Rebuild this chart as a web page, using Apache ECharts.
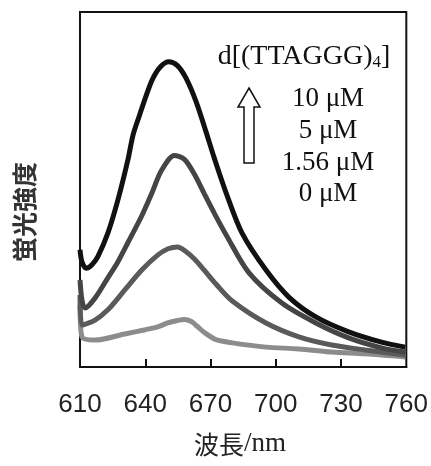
<!DOCTYPE html>
<html>
<head>
<meta charset="utf-8">
<script src="https://cdn.jsdelivr.net/npm/echarts@6/dist/echarts.min.js"></script>
<style>
  html, body { margin: 0; padding: 0; background: #fff; }
  #chart { width: 431px; height: 466px; }
</style>
</head>
<body>
<div id="chart"></div>
<script>
// Wavelength tick labels (nm)
var xTickLabels = [610, 640, 670, 700, 730, 760];
var xTickMarks = [640, 670, 700, 730];

// Series names
var seriesNames = ['10 μM', '5 μM', '1.56 μM', '0 μM'];

// Fluorescence intensity (arbitrary units, 0-100)
var wl10 = [610, 610.9, 612.9, 615.5, 618.2, 622.8, 627.4, 632.0, 634.4, 637.4, 640.5, 643.5, 647.0, 650.8, 654.8, 658.8, 663.4, 667.9, 671.7, 677.2, 684.5, 695.5, 706.0, 718.4, 733.5, 748.6, 759.5];
var int10 = [33.0, 29.6, 27.8, 28.8, 31.1, 37.7, 47.0, 58.3, 65.4, 71.0, 76.6, 81.3, 84.6, 86.0, 84.9, 81.3, 74.7, 66.3, 58.9, 49.0, 37.7, 27.3, 19.7, 14.1, 9.9, 7.0, 5.6];

var wl5 = [610, 610.9, 612.3, 616.9, 622.8, 627.4, 632.0, 638.4, 642.9, 647.5, 653.4, 658.0, 662.6, 667.2, 672.0, 677.2, 687.7, 702.8, 718.4, 733.5, 748.6, 759.5];
var int5 = [24.5, 18.9, 16.6, 19.4, 25.1, 29.6, 35.0, 42.6, 48.8, 55.4, 59.6, 58.5, 54.3, 48.7, 43.0, 37.2, 26.5, 18.0, 12.4, 8.2, 5.4, 4.2];

var wl156 = [610, 610.9, 616.9, 622.8, 630.6, 638.4, 645.7, 650.5, 654.8, 658.5, 662.6, 667.2, 672.6, 680.0, 695.5, 710.6, 725.7, 741.2, 759.5];
var int156 = [20.3, 11.8, 13.2, 16.1, 21.7, 27.3, 31.5, 33.3, 33.8, 32.6, 30.4, 27.2, 23.3, 18.6, 12.4, 8.5, 6.2, 4.8, 3.4];

var wl0 = [610, 610.9, 616.9, 630.6, 640.0, 645.7, 650.3, 654.8, 658.0, 661.2, 664.0, 667.2, 672.6, 680.0, 695.5, 710.6, 725.7, 741.2, 759.5];
var int0 = [17.5, 8.5, 7.6, 9.3, 10.5, 11.3, 12.4, 13.1, 13.4, 12.8, 11.4, 9.7, 7.7, 6.8, 5.6, 5.1, 4.2, 3.7, 2.8];

var lineColors = ['#111111', '#454545', '#5a5a5a', '#8c8c8c'];

function pairs(xs, ys) {
  var out = [];
  for (var i = 0; i < xs.length; i++) out.push([xs[i], ys[i]]);
  return out;
}

var allData = [pairs(wl10, int10), pairs(wl5, int5), pairs(wl156, int156), pairs(wl0, int0)];

var chart = echarts.init(document.getElementById('chart'), null, { renderer: 'canvas' });

var series = [];
for (var s = 3; s >= 0; s--) {
  series.push({
    name: seriesNames[s],
    type: 'line',
    data: allData[s],
    smooth: 0.3,
    symbol: 'none',
    lineStyle: { color: lineColors[s], width: 5 },
    z: 10 - s
  });
}

var serif = '"Liberation Serif", "DejaVu Serif", serif';

var option = {
  animation: false,
  backgroundColor: '#ffffff',
  grid: {
    left: 80, right: 23, top: 12, bottom: 99,
    show: true, borderColor: '#111', borderWidth: 2, backgroundColor: 'transparent'
  },
  xAxis: {
    type: 'value',
    min: 610, max: 760,
    axisLine: { show: true, lineStyle: { color: '#111', width: 2 } },
    axisTick: { show: true, inside: true, length: 8, customValues: xTickMarks, lineStyle: { color: '#111', width: 2 } },
    axisLabel: {
      customValues: xTickLabels,
      margin: 25,
      fontSize: 26,
      color: '#222',
      fontFamily: '"Liberation Sans", Arial, sans-serif'
    },
    splitLine: { show: false }
  },
  yAxis: {
    type: 'value',
    min: 0, max: 100,
    axisLine: { show: false },
    axisTick: { show: false },
    axisLabel: { show: false },
    splitLine: { show: false }
  },
  series: series,
  graphic: [
    {
      type: 'text',
      x: 24, y: 212, rotation: Math.PI / 2,
      style: {
        text: '蛍光強度',
        fontSize: 25,
        fontWeight: 'bold',
        fontFamily: '"Noto Sans CJK JP", sans-serif',
        fill: '#333',
        textAlign: 'center',
        textVerticalAlign: 'middle'
      }
    },
    {
      type: 'text',
      x: 240, y: 444,
      style: {
        text: '{a|波長}{b|/nm}',
        textAlign: 'center',
        textVerticalAlign: 'middle',
        rich: {
          a: { fontSize: 25, fontFamily: '"Noto Sans CJK JP", sans-serif', fill: '#222' },
          b: { fontSize: 27, fontFamily: serif, fill: '#222' }
        }
      }
    },
    {
      type: 'text',
      x: 304, y: 57,
      style: {
        text: '{a|d[(TTAGGG)}{s|4}{a|]}',
        textAlign: 'center',
        textVerticalAlign: 'middle',
        rich: {
          a: { fontSize: 28, fontFamily: serif, fill: '#111' },
          s: { fontSize: 17, fontFamily: serif, fill: '#111', padding: [12, 0, 0, 0] }
        }
      }
    },
    { type: 'text', x: 328, y: 99, style: { text: seriesNames[0], fontSize: 27, fontFamily: serif, fill: '#111', textAlign: 'center', textVerticalAlign: 'middle' } },
    { type: 'text', x: 328, y: 131, style: { text: seriesNames[1], fontSize: 27, fontFamily: serif, fill: '#111', textAlign: 'center', textVerticalAlign: 'middle' } },
    { type: 'text', x: 328, y: 163, style: { text: seriesNames[2], fontSize: 27, fontFamily: serif, fill: '#111', textAlign: 'center', textVerticalAlign: 'middle' } },
    { type: 'text', x: 328, y: 194, style: { text: seriesNames[3], fontSize: 27, fontFamily: serif, fill: '#111', textAlign: 'center', textVerticalAlign: 'middle' } },
    {
      type: 'polygon',
      shape: { points: [[249, 88], [260, 107], [254, 107], [254, 163], [244, 163], [244, 107], [238, 107]] },
      style: { fill: '#fff', stroke: '#111', lineWidth: 1.5 }
    }
  ]
};

chart.setOption(option);
</script>
</body>
</html>
